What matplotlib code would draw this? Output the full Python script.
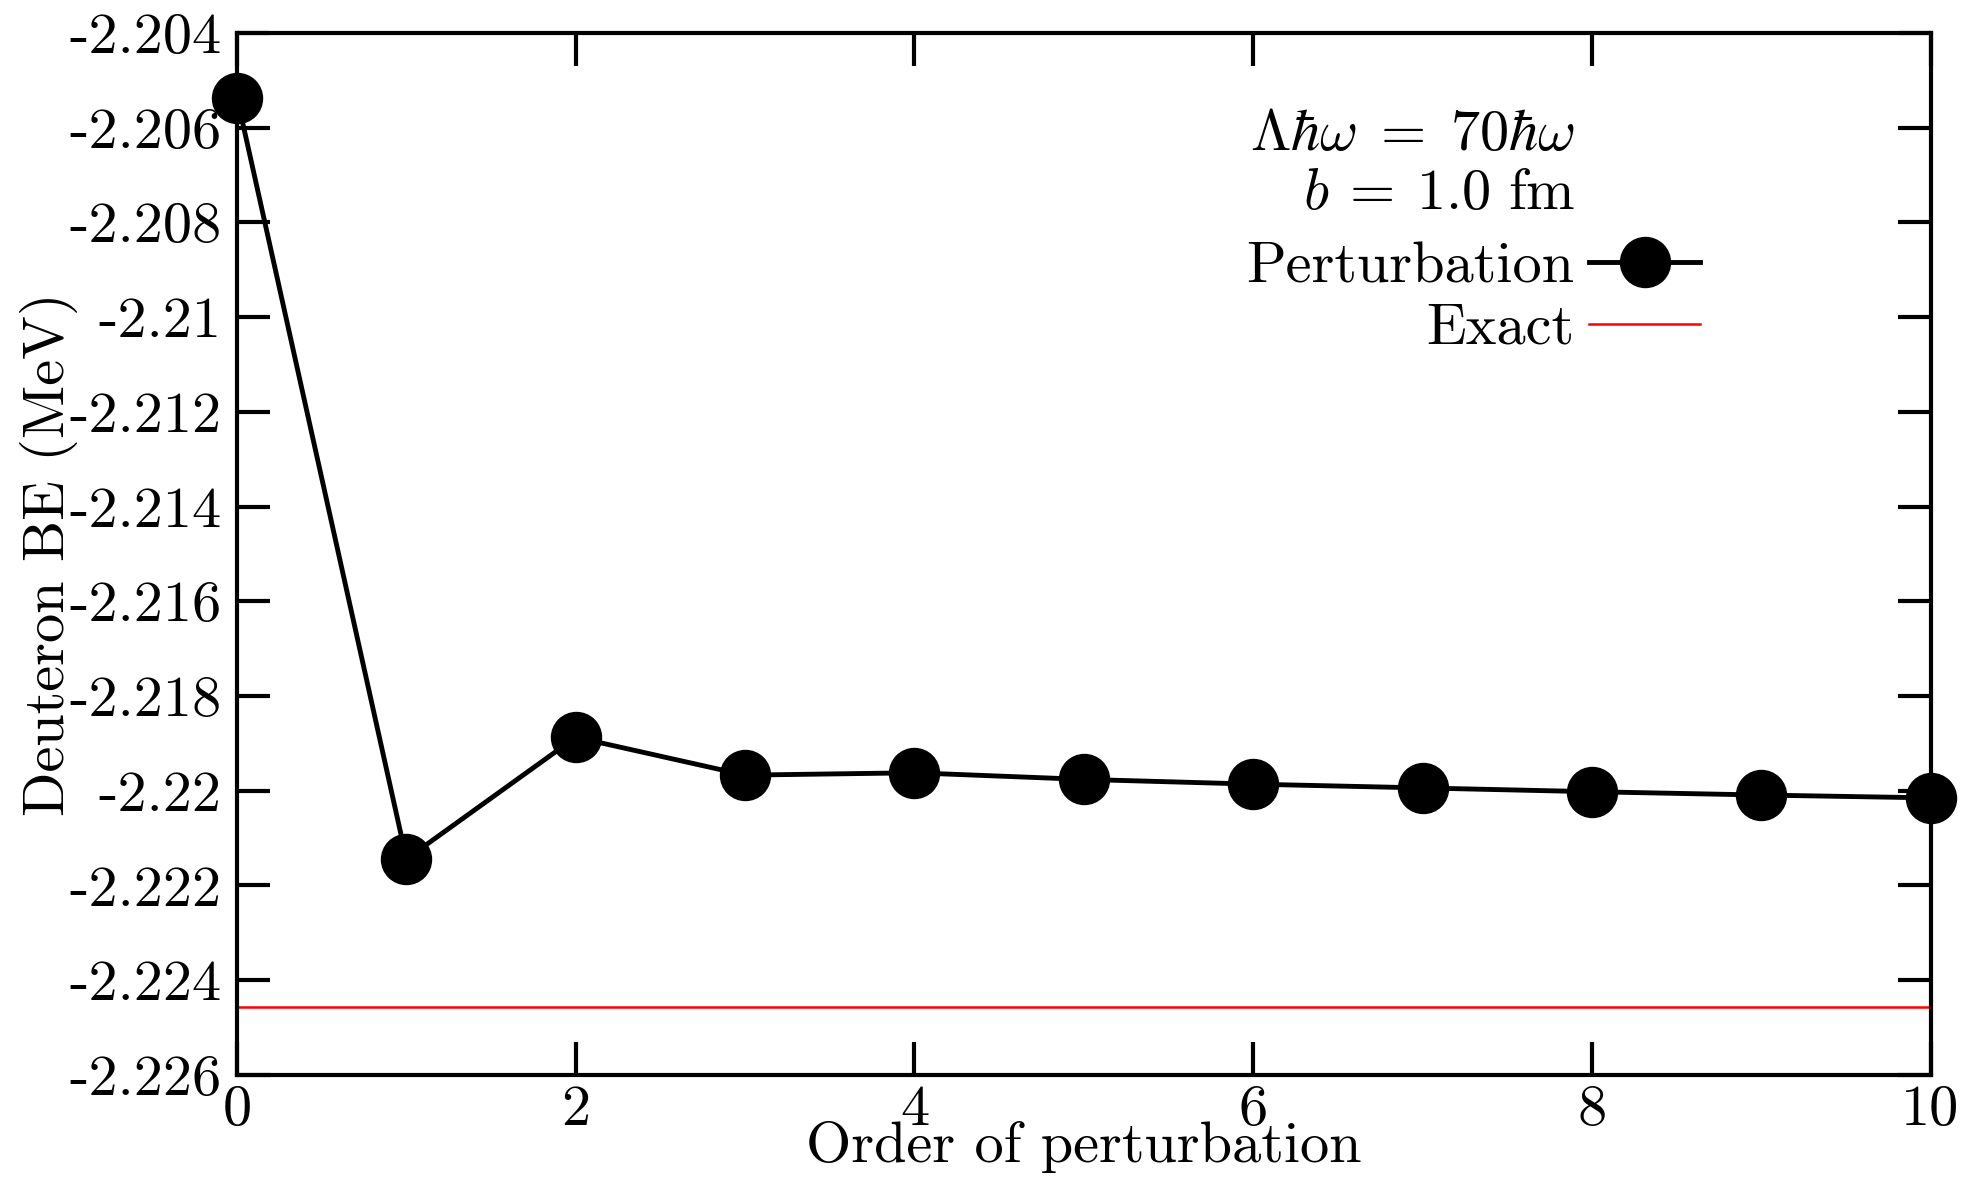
import matplotlib
matplotlib.use('Agg')
import matplotlib.pyplot as plt
import numpy as np

plt.rcParams['font.family'] = 'serif'
plt.rcParams['font.serif'] = ['cmr10']
plt.rcParams['mathtext.fontset'] = 'cm'
plt.rcParams['axes.unicode_minus'] = False

# data
order = [0, 1, 2, 3, 4, 5, 6, 7, 8, 9, 10]
energy = [-2.20537, -2.22144, -2.21887, -2.21967, -2.21962, -2.21976,
          -2.21986, -2.21994, -2.22002, -2.22009, -2.22015]
exact = -2.22457
yticks = [-2.204, -2.206, -2.208, -2.21, -2.212, -2.214, -2.216,
          -2.218, -2.22, -2.222, -2.224, -2.226]
ytick_labels = ['-2.204', '-2.206', '-2.208', '-2.21', '-2.212', '-2.214',
                '-2.216', '-2.218', '-2.22', '-2.222', '-2.224', '-2.226']
xticks = [0, 2, 4, 6, 8, 10]

fs = 42
fig = plt.figure(figsize=(19.76, 11.77), dpi=100)
ax = fig.add_axes([0.12, 0.0867, 0.857, 0.8853])

ax.plot(order, energy, '-o', color='black', lw=3.5, ms=36,
        label='Perturbation', zorder=3, clip_on=False)
ax.axhline(exact, color='red', lw=1.8, label='Exact', zorder=2)

ax.set_xlim(0, 10)
ax.set_ylim(-2.226, -2.204)
ax.set_xticks(xticks)
ax.set_xticklabels([str(t) for t in xticks])
ax.set_yticks(yticks)
ax.set_yticklabels(ytick_labels)

for s in ax.spines.values():
    s.set_linewidth(3)
ax.tick_params(direction='in', length=24, width=3, top=True, right=True,
               labelsize=fs)
ax.tick_params(axis='y', pad=11)
ax.tick_params(axis='x', pad=7)

ax.set_xlabel('Order of perturbation', fontsize=fs, labelpad=-11)
ax.set_ylabel('Deuteron BE (MeV)', fontsize=fs, labelpad=-6)

fig.text(1575 / 1976, 1 - 135 / 1177, r'$\Lambda\hbar\omega\;=\;70\hbar\omega$',
         fontsize=fs, ha='right', va='center')
fig.text(1575 / 1976, 1 - 194 / 1177, r'$b\:=\:1.0\ \mathrm{fm}$',
         fontsize=fs, ha='right', va='center')

leg = ax.legend(loc='upper right', bbox_to_anchor=(1700 / 1976, 1 - 242 / 1177),
                bbox_transform=fig.transFigure, frameon=False, fontsize=fs,
                markerfirst=False, handlelength=1.9, handletextpad=0.25,
                labelspacing=0.16, borderpad=0, borderaxespad=0)

fig.savefig('out.png', dpi=100)
